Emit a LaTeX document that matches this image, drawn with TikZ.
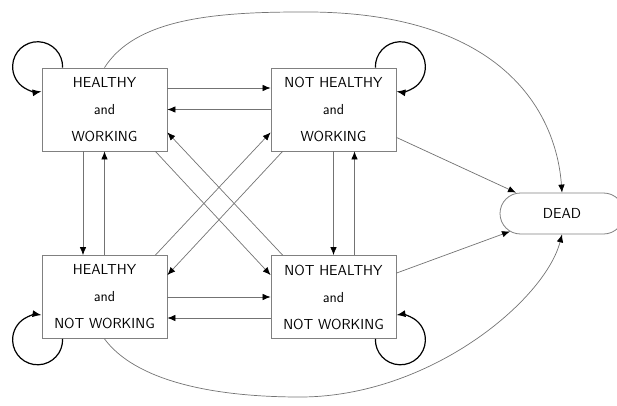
\documentclass[tikz,border=0pt]{standalone}
\usepackage{tikz}
\usetikzlibrary{arrows.meta, shapes.misc, calc}

\begin{document}
\begin{tikzpicture}[x=1pt,y=1pt]
      \tikzset{state box/.style={draw=black!50,
          line width=0.8pt,
          minimum width=125pt,
          minimum height=83pt,
          inner sep=0pt,
          align=center,
          font=\sffamily\fontsize{14.5}{27}\selectfont},
        dead box/.style={draw=black!50,
          line width=0.8pt,
          rounded rectangle,
          minimum width=124pt,
          minimum height=41pt,
          inner sep=0pt,
          font=\sffamily\fontsize{14.5}{17}\selectfont},
        move/.style={draw=black!55, line width=0.7pt,
          -{Latex[length=8pt,width=6.5pt,color=black]}},
        stay/.style={draw=black, line width=1.2pt,
          -{Latex[length=9pt,width=7pt]}}
      }
      \useasboundingbox (0,0) rectangle (617,405);
      \node [state box] (HW) at (104.5,295.5) {HEALTHY\\and\\WORKING};
      \node [state box] (NHW) at (333.5,295.5) {NOT HEALTHY\\and\\WORKING};
      \node [state box] (HNW) at (104.5,108) {HEALTHY\\and\\NOT WORKING};
      \node [state box] (NHNW) at (333.5,108) {NOT HEALTHY\\and\\NOT WORKING};
      \node [dead box] (D) at (562,191.5) {DEAD};

      \draw [move] ([yshift=21.5pt]HW.east) -- ([yshift=21.5pt]NHW.west);
      \draw [move] (NHW.west) -- (HW.east);
      \draw [move] (HNW.east) -- (NHNW.west);
      \draw [move] ([yshift=-21pt]NHNW.west) -- ([yshift=-21pt]HNW.east);

      \draw [move] ([xshift=-21.5pt]HW.south) -- ([xshift=-21.5pt]HNW.north);
      \draw [move] (HNW.north) -- (HW.south);
      \draw [move] (NHW.south) -- (NHNW.north);
      \draw [move] ([xshift=21pt]NHNW.north) -- ([xshift=21pt]NHW.south);

      \draw [move] ([xshift=-12pt]HW.south east) -- ([yshift=-20pt]NHNW.north west);
      \draw [move] ([xshift=12pt]NHNW.north west) -- ([yshift=19pt]HW.south east);
      \draw [move] ([xshift=-12pt]HNW.north east) -- ([yshift=19pt]NHW.south west);
      \draw [move] ([xshift=12pt]NHW.south west) -- ([yshift=-20pt]HNW.north east);

      \draw [move] ([yshift=14pt]NHW.south east) -- ([xshift=-46pt]D.north);
      \draw [move] ([yshift=-18pt]NHNW.north east) -- ([shift={(-52pt,3pt)}]D.south);

      \draw [move] (HW.north) .. controls (135,385) and (210,393) .. (300,393)
        .. controls (500,395) and (556,295) .. (D.north);
      \draw [move] (HNW.south) .. controls (135,25) and (210,8) .. (300,8)
        .. controls (430,8) and (545,105) .. (D.south);

      \draw [stay] ([xshift=21pt]HW.north west) arc [start angle=-2, end angle=279, radius=25pt];
      \draw [stay] ([xshift=-21pt]NHW.north east) arc [start angle=182, end angle=-99, radius=25pt];
      \draw [stay] ([xshift=21pt]HNW.south west) arc [start angle=2, end angle=-279, radius=25pt];
      \draw [stay] ([xshift=-21pt]NHNW.south east) arc [start angle=178, end angle=459, radius=25pt];
    \end{tikzpicture}
\end{document}
